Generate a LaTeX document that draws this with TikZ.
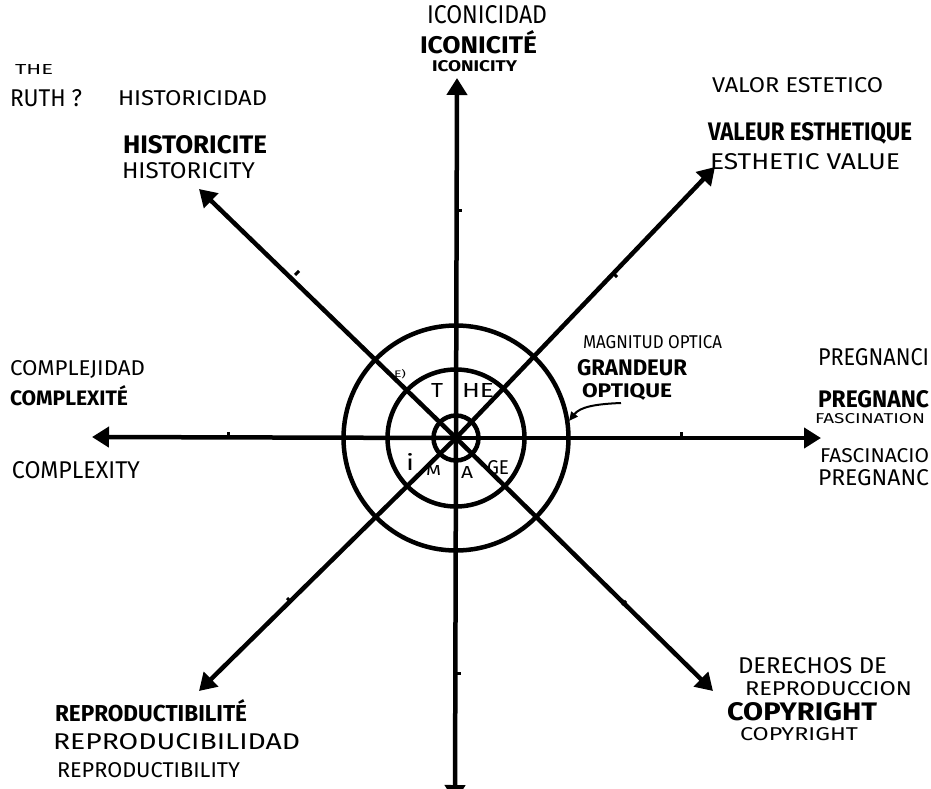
\documentclass[tikz,border=0pt]{standalone}
\usepackage{fontspec}
\setmainfont{Fira Sans}
\usepackage{graphicx}
\usetikzlibrary{arrows.meta}
\tikzset{
  axis/.style={line width=4.5pt, -{Triangle[length=17pt,width=20pt]}},
  ring/.style={circle, draw, line width=4.5pt, inner sep=0pt, outer sep=0pt},
  tickmark/.style={line width=3pt},
  lbl/.style={anchor=west, inner sep=0pt, outer sep=0pt},
}
\newcommand{\lab}[6]{\node[lbl] (#1) at (#2,#3) {\resizebox{#4pt}{#5pt}{#6}};}
\begin{document}
\begin{tikzpicture}[x=1pt,y=-1pt]
\useasboundingbox (0,0) rectangle (931,789);
\fill[white] (0,0) rectangle (931,789);
\clip (0,0) rectangle (931,789);
% axes
\coordinate (O) at (456,438);
\coordinate (N) at (457,78);
\coordinate (S) at (455,802);
\coordinate (W) at (92,437);
\coordinate (E) at (821,438);
\coordinate (NW) at (199,189);
\coordinate (NE) at (715,167);
\coordinate (SW) at (199,691);
\coordinate (SE) at (713,691);
\foreach \t in {N,S,W,E,NW,NE,SW,SE} {\draw[axis] (O) -- (\t);}
% rings
\node[ring, minimum size=225pt] (outer) at (O) {};
\node[ring, minimum size=137pt] (middle) at (O) {};
\node[ring, minimum size=45pt] (inner) at (O) {};
% ticks
\draw[tickmark] (456,210) -- (462,210);
\draw[tickmark] (455,673) -- (461,673);
\draw[tickmark] (228,438) -- (228,432);
\draw[tickmark] (681,438) -- (681,432);
\draw[tickmark] (295,275) -- (299,271);
\draw[tickmark] (617,277) -- (613,273);
\draw[tickmark] (291,602) -- (287,598);
\draw[tickmark] (622,605) -- (626,601);
% labels top-left
\lab{the}{15}{70}{38}{10}{THE}
\lab{ruth}{10}{98}{72}{17}{RUTH ?}
\lab{hsp}{118}{98}{149}{15}{HISTORICIDAD}
\lab{hfr}{123}{145}{144}{18}{\bfseries HISTORICITE}
\lab{hen}{122}{171}{133}{16}{HISTORICITY}
% top
\lab{isp}{427}{15}{120}{18}{ICONICIDAD}
\lab{ifr}{420}{42}{117}{23}{\bfseries ICONICITÉ}
\lab{ien}{432}{66}{85}{11}{\bfseries ICONICITY}
% top-right
\lab{vsp}{712}{85}{171}{15}{VALOR ESTETICO}
\lab{vfr}{708}{133}{204}{18}{\bfseries VALEUR ESTHETIQUE}
\lab{ven}{710}{162}{190}{16}{ESTHETIC VALUE}
% left
\lab{csp}{10}{369}{135}{15}{COMPLEJIDAD}
\lab{cfr}{10}{396}{118}{20}{\bfseries COMPLEXITÉ}
\lab{cen}{12}{470}{128}{17}{COMPLEXITY}
% right (cut off at the edge in the drawing)
\lab{psp}{818}{357}{111}{17}{PREGNANCI}
\lab{pfr}{818}{399}{111}{17}{\bfseries PREGNANC}
\lab{fen}{815}{419}{110}{10}{FASCINATION}
\lab{fsp}{820}{456}{109}{14}{FASCINACIO}
\lab{pen}{818}{478}{111}{16}{PREGNANC}
% optical size
\lab{msp}{583}{342}{139}{13}{MAGNITUD OPTICA}
\lab{gfr}{577}{368}{110}{16}{\bfseries GRANDEUR}
\lab{ofr}{582}{392}{90}{14}{\bfseries OPTIQUE}
\coordinate (mg) at (621,403);
\draw[line width=2pt, -{Triangle[length=9pt,width=8pt]}] (mg) .. controls (595,404) and (580,407) .. (569,421);
% centre letters
\lab{eb}{394}{374}{12}{8}{E)}
\lab{tt}{431}{390}{12}{14}{T}
\lab{hh}{462}{390}{32}{14}{HE}
\lab{ii}{406}{462}{8}{17}{i}
\lab{mm}{426}{470}{15}{10}{M}
\lab{aa}{461}{472}{12}{12}{A}
\lab{ge}{487}{468}{22}{14}{GE}
% bottom-left
\lab{rfr}{55}{711}{192}{22}{\bfseries REPRODUCTIBILITÉ}
\lab{rsp}{53}{742}{247}{16}{REPRODUCIBILIDAD}
\lab{ren}{57}{770}{183}{15}{REPRODUCTIBILITY}
% bottom-right
\lab{dsp}{738}{666}{149}{16}{DERECHOS DE}
\lab{dsp2}{745}{689}{167}{14}{REPRODUCCION}
\lab{cpf}{727}{712}{150}{18}{\bfseries COPYRIGHT}
\lab{cpe}{740}{734}{118}{13}{COPYRIGHT}
\end{tikzpicture}
\end{document}
